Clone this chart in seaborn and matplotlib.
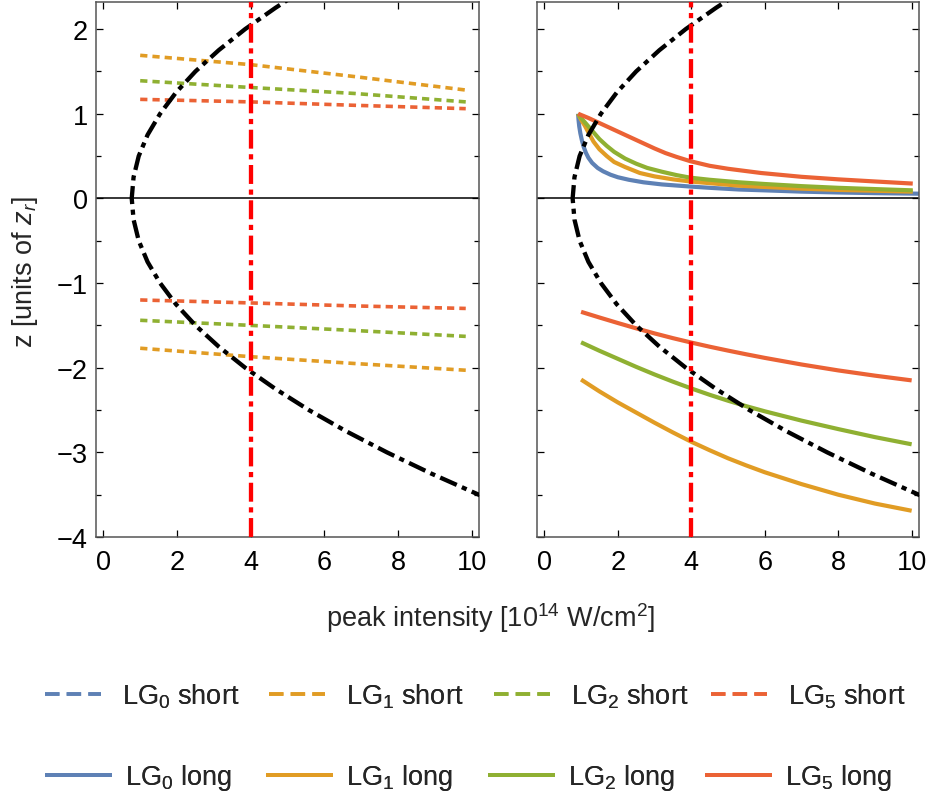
import matplotlib
matplotlib.use("Agg")
import matplotlib.pyplot as plt
import seaborn as sns
import pandas as pd
from matplotlib.lines import Line2D
from matplotlib.ticker import MultipleLocator

# ---------------- data ----------------
# focal-volume boundary (peak intensity reached at position z)
boundary_z = [-3.55, -3.25, -3.0, -2.75, -2.5, -2.25, -2.0, -1.75, -1.5, -1.25, -1.0,
              -0.75, -0.5, -0.25, 0.0, 0.25, 0.5, 0.75, 1.0, 1.25, 1.5, 1.75, 2.0,
              2.25, 2.4]
boundary_I = [10.45, 8.9, 7.7, 6.59, 5.58, 4.67, 3.85, 3.13, 2.5, 1.97, 1.54,
              1.2, 0.96, 0.82, 0.77, 0.82, 0.96, 1.2, 1.54, 1.97, 2.5, 3.13, 3.85,
              4.67, 5.2]
ref_intensity = 4.0

# short trajectories (left panel)
short_I = [1.0, 4.0, 6.8, 9.84]
short_LG1_up = [1.69, 1.58, 1.44, 1.28]
short_LG2_up = [1.39, 1.31, 1.24, 1.14]
short_LG5_up = [1.17, 1.14, 1.10, 1.06]
short_LG5_dn = [-1.20, -1.235, -1.27, -1.30]
short_LG2_dn = [-1.44, -1.50, -1.56, -1.63]
short_LG1_dn = [-1.77, -1.87, -1.95, -2.03]

# long trajectories (right panel), upper branch
long_LG0_up_I = [0.92, 0.93, 0.95, 0.98, 1.02, 1.07, 1.13, 1.2, 1.3, 1.45, 1.6, 1.8, 2.0,
                 2.3, 2.7, 3.2, 3.97, 4.5, 5.3, 6.0, 7.0, 8.0, 9.0, 10.3]
long_LG0_up_z = [1.0, 0.93, 0.85, 0.77, 0.69, 0.61, 0.54, 0.48, 0.42, 0.36, 0.32, 0.28, 0.25,
                 0.22, 0.19, 0.165, 0.14, 0.125, 0.105, 0.095, 0.08, 0.07, 0.062, 0.055]
long_LG1_up_I = [0.92, 1.0, 1.1, 1.2, 1.34, 1.5, 1.7, 1.9, 2.2, 2.6, 3.0, 3.5, 3.97, 4.5,
                 5.3, 6.0, 7.0, 8.0, 9.0, 10.03]
long_LG1_up_z = [1.0, 0.93, 0.86, 0.78, 0.67, 0.58, 0.50, 0.43, 0.37, 0.30, 0.26, 0.225,
                 0.20, 0.18, 0.15, 0.135, 0.115, 0.10, 0.09, 0.08]
long_LG2_up_I = [0.92, 1.0, 1.1, 1.2, 1.34, 1.5, 1.7, 1.9, 2.2, 2.5, 2.8, 3.2, 3.6, 3.97,
                 4.5, 5.3, 6.0, 7.0, 8.0, 9.0, 10.03]
long_LG2_up_z = [1.0, 0.95, 0.90, 0.85, 0.78, 0.70, 0.62, 0.55, 0.47, 0.41, 0.36, 0.315,
                 0.275, 0.245, 0.22, 0.19, 0.17, 0.145, 0.125, 0.11, 0.095]
long_LG5_up_I = [0.92, 1.2, 1.5, 1.8, 2.1, 2.4, 2.7, 3.0, 3.3, 3.6, 3.97, 4.5, 5.0, 5.9,
                 7.0, 8.0, 9.0, 10.03]
long_LG5_up_z = [1.0, 0.95, 0.89, 0.83, 0.77, 0.71, 0.65, 0.59, 0.535, 0.49, 0.44, 0.385,
                 0.35, 0.30, 0.255, 0.225, 0.20, 0.175]

# long trajectories, lower branch
long_dn_I = [1.0, 1.5, 2.0, 2.5, 3.0, 3.5, 4.0, 4.5, 5.0, 5.5, 6.0, 7.0, 8.0, 9.0, 10.0]
long_LG5_dn_z = [-1.34, -1.407, -1.472, -1.535, -1.595, -1.651, -1.703, -1.752, -1.798,
                 -1.842, -1.884, -1.962, -2.032, -2.094, -2.15]
long_LG2_dn_z = [-1.70, -1.80, -1.895, -1.99, -2.08, -2.165, -2.245, -2.32, -2.39, -2.455,
                 -2.515, -2.625, -2.725, -2.82, -2.905]
long_LG1_dn_z = [-2.14, -2.28, -2.41, -2.53, -2.65, -2.765, -2.875, -2.975, -3.07, -3.155,
                 -3.235, -3.375, -3.50, -3.605, -3.69]

modes = ["LG$_0$", "LG$_1$", "LG$_2$", "LG$_5$"]
colors = ["#5E81B5", "#E19C24", "#8FB032", "#EB6235"]

# ---------------- style ----------------
sns.set_theme(style="ticks")
plt.rcParams["font.family"] = ["Liberation Sans", "DejaVu Sans"]
plt.rcParams["mathtext.fontset"] = "custom"
plt.rcParams["mathtext.rm"] = "Liberation Sans"
plt.rcParams["mathtext.it"] = "Liberation Sans:italic"
plt.rcParams["mathtext.bf"] = "Liberation Sans:bold"

FS = 19.5
fig = plt.figure(figsize=(9.27, 8.03), dpi=100)
axL = fig.add_axes([96 / 927, 1 - 538 / 803, 383 / 927, 535 / 803])
axR = fig.add_axes([537 / 927, 1 - 538 / 803, 382 / 927, 535 / 803])

SHORT_DASH = (2.0, 1.4)
DASHDOT = (4.2, 1.3, 1.2, 1.3)


def draw(ax, x, y, color, lw, dashes=None, z=2):
    sns.lineplot(x=x, y=y, ax=ax, sort=False, estimator=None, color=color,
                 lw=lw, legend=False, zorder=z)
    ln = ax.lines[-1]
    ln.set_solid_capstyle("butt")
    ln.set_solid_joinstyle("round")
    if dashes is not None:
        ln.set_dashes(dashes)
        ln.set_dash_capstyle("butt")
    return ln


# left: short trajectories
for yv, c in [(short_LG1_up, colors[1]), (short_LG2_up, colors[2]), (short_LG5_up, colors[3]),
              (short_LG5_dn, colors[3]), (short_LG2_dn, colors[2]), (short_LG1_dn, colors[1])]:
    draw(axL, short_I, yv, c, 2.6, SHORT_DASH)

# right: long trajectories
for xv, yv, c in [(long_LG0_up_I, long_LG0_up_z, colors[0]),
                  (long_LG1_up_I, long_LG1_up_z, colors[1]),
                  (long_LG2_up_I, long_LG2_up_z, colors[2]),
                  (long_LG5_up_I, long_LG5_up_z, colors[3]),
                  (long_dn_I, long_LG5_dn_z, colors[3]),
                  (long_dn_I, long_LG2_dn_z, colors[2]),
                  (long_dn_I, long_LG1_dn_z, colors[1])]:
    draw(axR, xv, yv, c, 3.0)

for ax in (axL, axR):
    ax.axhline(0, color="black", lw=1.1, zorder=1)
    draw(ax, boundary_I, boundary_z, "black", 3.1, DASHDOT, z=4)
    vl = ax.axvline(ref_intensity, color="#FF0000", lw=3.1, zorder=5)
    vl.set_dashes((4.4, 1.3, 1.2, 1.3))
    vl.set_dash_capstyle("butt")

    ax.set_xlim(-0.2, 10.2)
    ax.set_ylim(-4.0, 2.32)
    ax.set_xticks([0, 2, 4, 6, 8, 10])
    ax.set_yticks([-4, -3, -2, -1, 0, 1, 2])
    ax.yaxis.set_minor_locator(MultipleLocator(0.5))
    ax.tick_params(which="both", direction="in", top=True, right=True,
                   color="black", width=0.9, labelsize=FS, labelcolor="black")
    ax.tick_params(which="major", length=5)
    ax.tick_params(which="minor", length=3.6)
    ax.tick_params(axis="x", pad=9)
    ax.tick_params(axis="y", pad=6)
    for s in ax.spines.values():
        s.set_color("#555555")
        s.set_linewidth(1.1)
    ax.set_xlabel("")
    ax.set_ylabel("")
    ax.set_facecolor("white")

axR.tick_params(labelleft=False)

fig.text(491 / 927, 1 - 618 / 803, "peak intensity [10$^{14}$ W/cm$^{2}$]",
         ha="center", va="center", fontsize=FS)
fig.text(25 / 927, 1 - 272 / 803, "z [units of $z_r$]", rotation=90,
         ha="center", va="center", fontsize=FS)

# legend entries placed one by one (two rows: short dashed, long solid)
px_per_em = FS * 100 / 72
short_x = [45, 269, 494, 711]
long_x = [45, 266, 488, 705]
for i, (m, c) in enumerate(zip(modes, colors)):
    hs = Line2D([], [], color=c, lw=2.6, dashes=(4.0, 2.0), dash_capstyle="butt")
    lg = fig.legend([hs], [m + " short"], loc="center left",
                    bbox_to_anchor=(short_x[i] / 927, 1 - 697 / 803), frameon=False,
                    fontsize=FS, handlelength=56 / px_per_em,
                    handletextpad=(77 - 56) / px_per_em, borderpad=0, borderaxespad=0)
    fig.add_artist(lg)
    hl = Line2D([], [], color=c, lw=2.8, solid_capstyle="butt")
    lg = fig.legend([hl], [m + " long"], loc="center left",
                    bbox_to_anchor=(long_x[i] / 927, 1 - 778 / 803), frameon=False,
                    fontsize=FS, handlelength=67 / px_per_em,
                    handletextpad=(80 - 67) / px_per_em, borderpad=0, borderaxespad=0)
    fig.add_artist(lg)

fig.savefig("out.png", dpi=100, facecolor="white")
